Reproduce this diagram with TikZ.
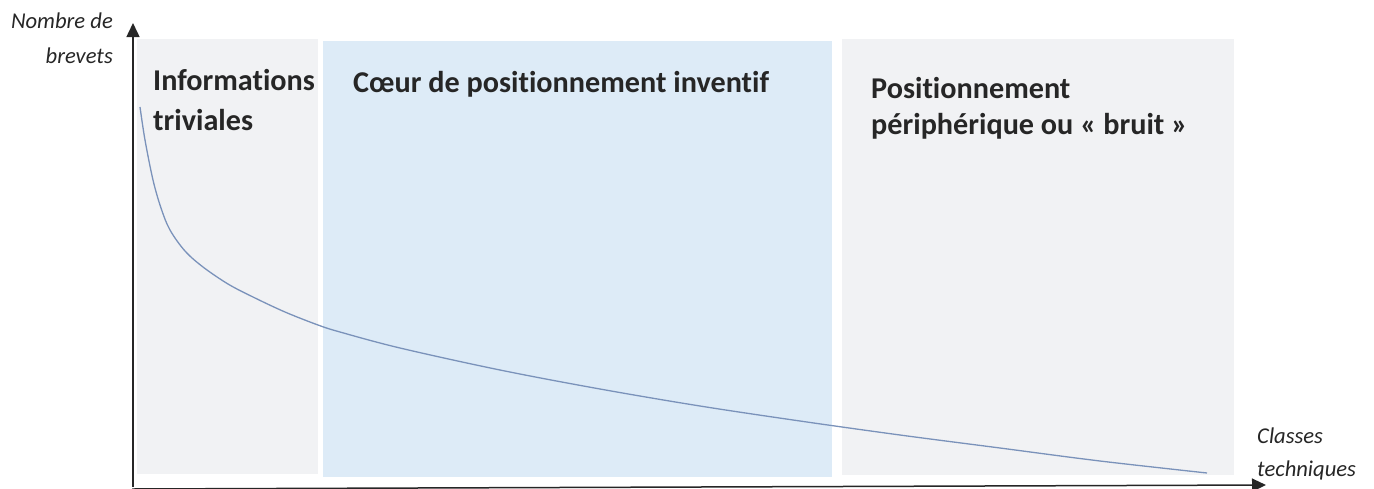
\documentclass[tikz,border=0pt]{standalone}
\usepackage{fontspec}
\setmainfont{Carlito}[Ligatures=NoCommon]
\usetikzlibrary{arrows.meta}
\definecolor{zonegrey}{RGB}{241,242,244}
\definecolor{zoneblue}{RGB}{221,235,247}
\definecolor{curveblue}{RGB}{122,146,186}
\tikzstyle{axis}=[draw=black!85,line width=1.5pt,-{Triangle[width=13pt,length=14pt]}]
\tikzstyle{title}=[anchor=base west,inner sep=0pt,text=black!85,font=\fontsize{30.2}{36}\selectfont\bfseries]
\tikzstyle{axislabel}=[inner sep=0pt,text=black!85,font=\fontsize{22.6}{35}\selectfont\itshape]

\begin{document}
\begin{tikzpicture}[x=1pt,y=-1pt]
\useasboundingbox (0,0) rectangle (1374,488);
% zones
\fill[zonegrey] (137,39) rectangle (318,474);
\fill[zoneblue] (323,41) rectangle (832,477);
\fill[zonegrey] (842,39) rectangle (1234,475);
% courbe
\draw[curveblue,line width=1.3pt] plot[smooth,tension=0.55] coordinates {
  (140,107) (145,140) (153,180) (161,208) (170,230) (185,251) (203,267)
  (228,284) (253,297) (285,312) (318,325) (340,332) (400,348) (500,370)
  (600,389) (700,406) (800,421) (900,435) (1000,448) (1100,461) (1207,473)};
% axes
\coordinate (O) at (133,487);
\coordinate (ytop) at (133,23);
\coordinate (xend) at (1266,485);
\draw[axis] (O) -- (ytop);
\draw[axis] ([xshift=-0.75pt,yshift=-2pt]O) -- (xend);
\node[axislabel,anchor=base east] (ylab1) at (113,28) {Nombre de};
\node[axislabel,anchor=base east] (ylab2) at (113,63) {brevets};
\node[axislabel,anchor=base west] (xlab1) at (1257,443) {Classes};
\node[axislabel,anchor=base west] (xlab2) at (1257,476) {techniques};
% titres
\node[title] (info1) at (153,90) {Informations};
\node[title] (info2) at ([yshift=-40pt]info1.base west) {triviales};
\node[title] (coeur) at (353,92) {Cœur de positionnement inventif};
\node[title] (peri1) at (871,98) {Positionnement};
\node[title] (peri2) at ([yshift=-36pt]peri1.base west) {périphérique ou « bruit »};
\end{tikzpicture}
\end{document}
